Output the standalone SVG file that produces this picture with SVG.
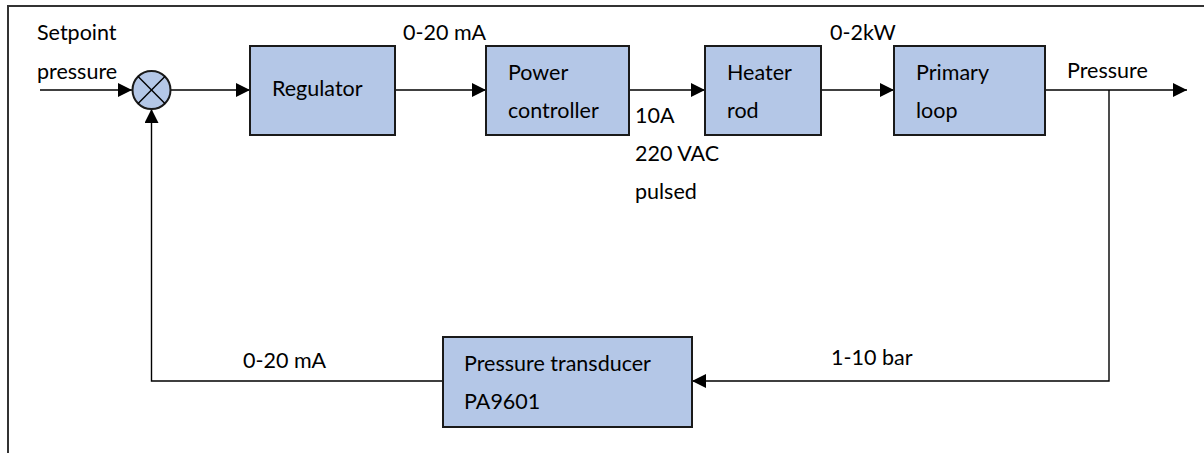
<svg xmlns="http://www.w3.org/2000/svg" width="1204" height="453" viewBox="0 0 1204 453">
<style>
.box{fill:#B4C7E7;stroke:#1a1a1a;stroke-width:2}
.ln{fill:none;stroke:#000;stroke-width:1.4}
.frame{fill:none;stroke:#333;stroke-width:2}
text{font-family:Lato,"Liberation Sans",sans-serif;font-size:21.5px;fill:#000}
</style>
<defs>
<marker id="ah" viewBox="0 0 14 14" refX="14" refY="7" markerWidth="14" markerHeight="14" markerUnits="userSpaceOnUse" orient="auto">
<path d="M0,0 L14,7 L0,14 Z" fill="#000"/>
</marker>
</defs>
<path class="frame" d="M8,453 V6 H1204"/>
<g id="connectors">
<line class="ln" x1="40" y1="90" x2="132" y2="90" marker-end="url(#ah)"/>
<line class="ln" x1="171" y1="90" x2="250" y2="90" marker-end="url(#ah)"/>
<line class="ln" x1="395" y1="90" x2="486" y2="90" marker-end="url(#ah)"/>
<line class="ln" x1="629" y1="90" x2="705" y2="90" marker-end="url(#ah)"/>
<line class="ln" x1="821" y1="90" x2="894" y2="90" marker-end="url(#ah)"/>
<line class="ln" x1="1045" y1="90" x2="1187" y2="90" marker-end="url(#ah)"/>
<polyline class="ln" points="1109,90 1109,381 692,381" marker-end="url(#ah)"/>
<polyline class="ln" points="443,381 151.5,381 151.5,109" marker-end="url(#ah)"/>
</g>
<g id="sum">
<circle cx="151.5" cy="90" r="19" fill="#B4C7E7" stroke="#1a1a1a" stroke-width="2"/>
<line class="ln" x1="138.1" y1="76.6" x2="164.9" y2="103.4"/>
<line class="ln" x1="164.9" y1="76.6" x2="138.1" y2="103.4"/>
</g>
<g id="regulator">
<rect class="box" x="250" y="46" width="145" height="89"/>
<text x="272" y="96">Regulator</text>
</g>
<g id="power-controller">
<rect class="box" x="486" y="46" width="143" height="89"/>
<text x="508" y="80">Power</text>
<text x="508" y="118">controller</text>
</g>
<g id="heater-rod">
<rect class="box" x="705" y="46" width="116" height="89"/>
<text x="727" y="80">Heater</text>
<text x="727" y="118">rod</text>
</g>
<g id="primary-loop">
<rect class="box" x="894" y="46" width="151" height="89"/>
<text x="916" y="80">Primary</text>
<text x="916" y="118">loop</text>
</g>
<g id="pressure-transducer">
<rect class="box" x="443" y="337" width="249" height="90"/>
<text x="464" y="371">Pressure transducer</text>
<text x="464" y="409">PA9601</text>
</g>
<g id="labels">
<text x="37" y="40">Setpoint</text>
<text x="37" y="79">pressure</text>
<text x="403" y="40">0-20 mA</text>
<text x="635" y="123">10A</text>
<text x="635" y="161">220 VAC</text>
<text x="635" y="199">pulsed</text>
<text x="830" y="40">0-2kW</text>
<text x="1067" y="78">Pressure</text>
<text x="243" y="368">0-20 mA</text>
<text x="831" y="365">1-10 bar</text>
</g>
</svg>
